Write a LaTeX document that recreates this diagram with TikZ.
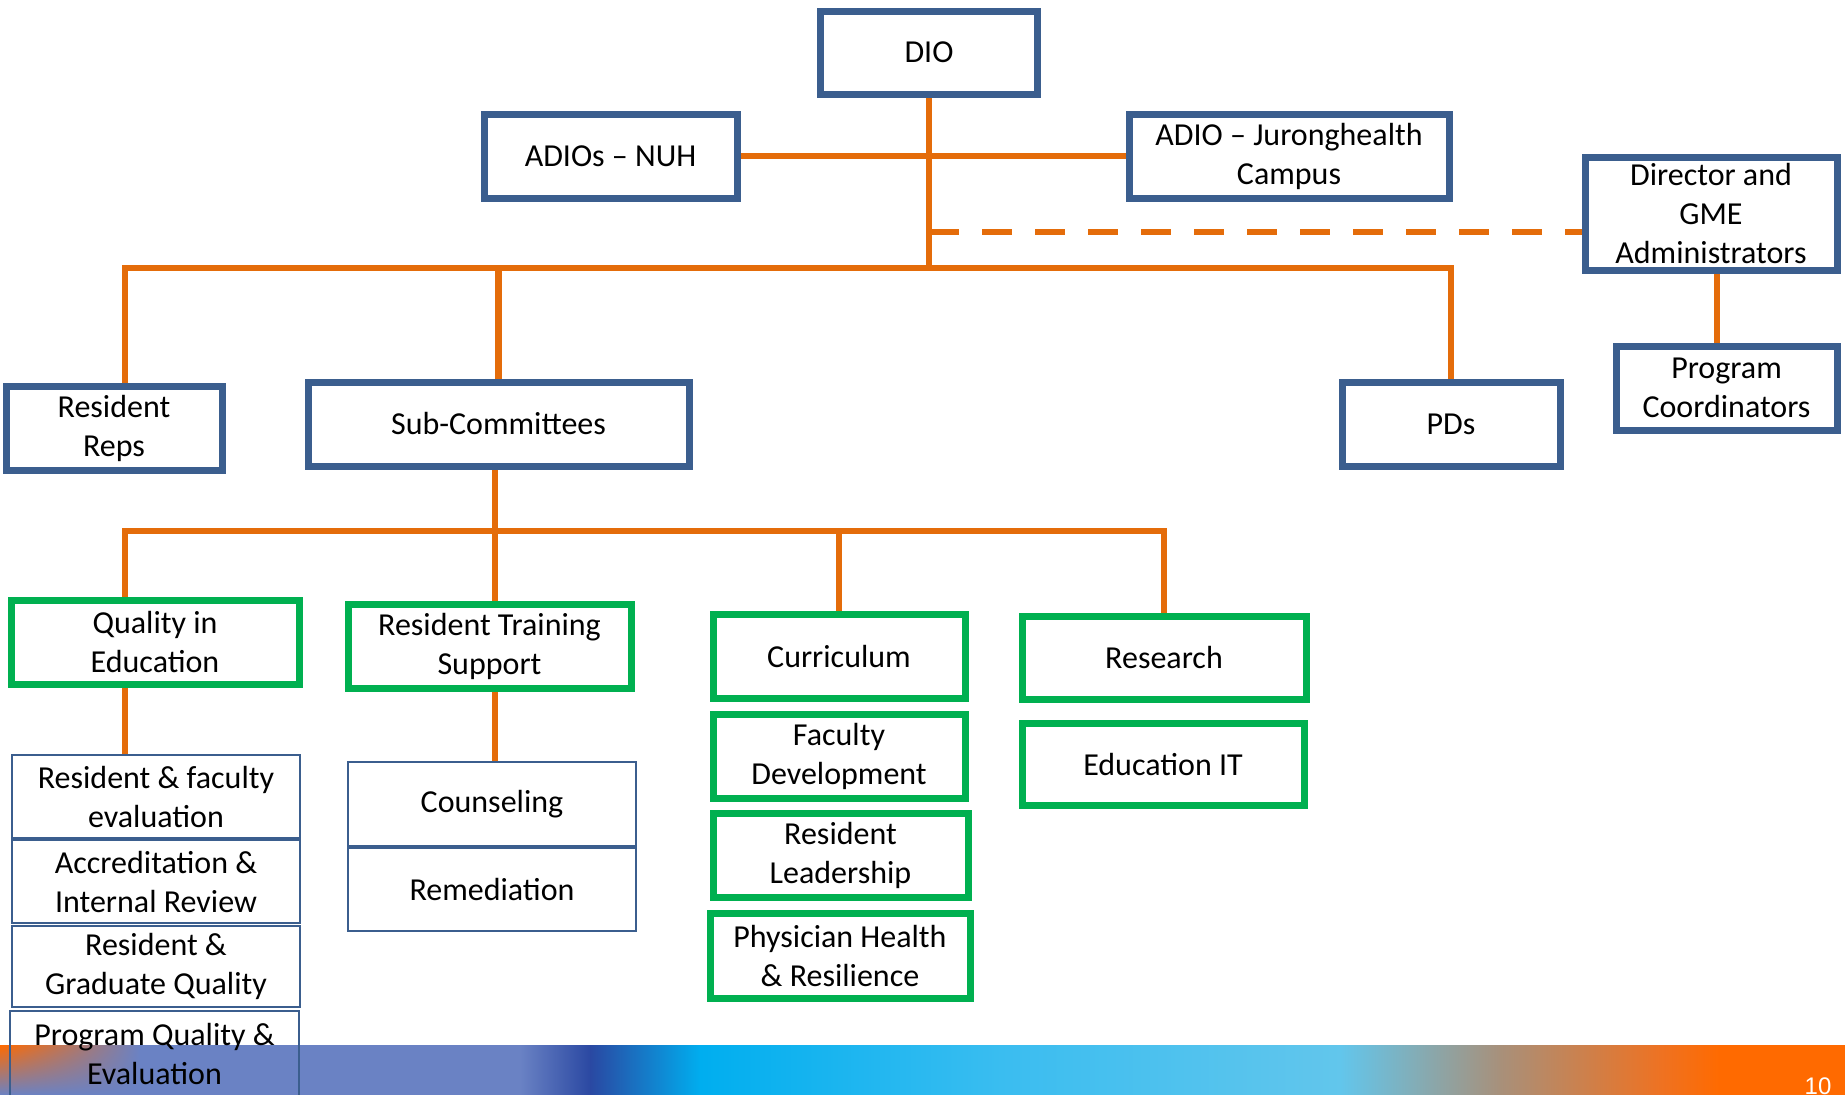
\documentclass[tikz,border=0pt]{standalone}
\usepackage{fontspec}
\setmainfont{Carlito}
\newfontfamily\numfont{Liberation Sans}
\usetikzlibrary{backgrounds, calc, shadings}
\definecolor{cblue}{HTML}{3B5E8E}
\definecolor{cgreen}{HTML}{00B050}
\definecolor{corange}{HTML}{E46C0A}
\definecolor{barorange}{HTML}{FF6A00}
\definecolor{barblue}{HTML}{6A82C4}
\definecolor{bardark}{HTML}{2A48A2}
\definecolor{barcyan}{HTML}{00AEEF}
\definecolor{barcyan2}{HTML}{3ABDF0}
\definecolor{barlight}{HTML}{62C6EC}
\definecolor{barbrown}{HTML}{A8907A}
\definecolor{barrust}{HTML}{EE7222}
\tikzset{
  box/.style={draw=#1, fill=white, line width=7pt, align=center, inner sep=0pt, font=\fontsize{32}{39}\selectfont},
  box/.default=cblue,
  thinbox/.style={box, line width=2pt},
  dims/.style 2 args={minimum width=#1pt, minimum height=#2pt},
  link/.style={draw=corange, line width=6.5pt},
}

\begin{document}
\begin{tikzpicture}[x=1pt, y=-1pt]
  \useasboundingbox (0,0) rectangle (1845,1095);
  % top level
  \node[box, dims={217}{83}] (dio) at (929,52.5) {DIO};
  \node[box, dims={253}{84}] (nuh) at (610.5,156) {ADIOs -- NUH};
  \node[box, dims={320}{84}] (jur) at (1289,156) {ADIO -- Juronghealth\\Campus};
  \node[box, dims={252}{113}] (gme) at (1711,213.5) {Director and\\GME\\Administrators};
  \node[box, dims={221}{84}] (coord) at (1726.5,388) {Program\\Coordinators};
  \node[box, dims={216}{84}] (reps) at (114,428) {Resident\\Reps};
  \node[box, dims={381}{84}] (subc) at (498.5,424) {Sub-Committees};
  \node[box, dims={218}{84}] (pds) at (1451,424) {PDs};
  % sub-committees
  \node[box=cgreen, dims={288}{84}] (qual) at (155,642) {Quality in\\Education};
  \node[box=cgreen, dims={283}{84}] (rts) at (489.5,646) {Resident Training\\Support};
  \node[box=cgreen, dims={252}{84}] (curr) at (839,656) {Curriculum};
  \node[box=cgreen, dims={252}{84}] (facdev) at (839,756) {Faculty\\Development};
  \node[box=cgreen, dims={255}{84}] (resl) at (840.5,855) {Resident\\Leadership};
  \node[box=cgreen, dims={260}{85}] (phys) at (840,955.5) {Physician Health\\\& Resilience};
  \node[box=cgreen, dims={284}{83}] (research) at (1164,657.5) {Research};
  \node[box=cgreen, dims={282}{82}] (eduit) at (1163,764) {Education IT};
  % working groups
  \node[thinbox, dims={288}{83}] (rfe) at (156,796.5) {Resident \& faculty\\evaluation};
  \node[thinbox, dims={288}{83}] (acc) at (156,881.5) {Accreditation \&\\Internal Review};
  \node[thinbox, dims={288}{81}] (rgq) at (156,966.5) {Resident \&\\Graduate Quality};
  \node[thinbox, fill=none, dims={289}{86}] (pqe) at (154.5,1054) {Program Quality \&\\Evaluation};
  \node[thinbox, dims={288}{84}] (couns) at (492,804) {Counseling};
  \node[thinbox, dims={288}{83}] (remed) at (492,889.5) {Remediation};
  \node[text=white, font=\numfont\fontsize{24}{28}\selectfont, anchor=base] (pgno) at (1818,1094) {10};

  \begin{scope}[on background layer]
    % footer band
    \foreach \xa/\xb/\ca/\cb in {0/520/barblue/barblue, 520/590/barblue/bardark, 590/700/bardark/barcyan,
        700/1000/barcyan/barcyan2, 1000/1340/barcyan2/barlight, 1340/1500/barlight/barbrown,
        1500/1660/barbrown/barrust, 1660/1720/barrust/barorange, 1720/1845/barorange/barorange}
      \shade[left color=\ca, right color=\cb] (\xa,1045) rectangle ({\xb+1},1095);
    \shade[upper left=barorange, upper right=barblue, lower left=barblue, lower right=barblue] (0,1045) rectangle (140,1095);
    % connectors
    \coordinate (busL) at (125,268);
    \coordinate (busR) at (1451,268);
    \coordinate (dash0) at (929,232);
    \coordinate (sbL) at (125,531);
    \coordinate (sbM) at (495,531);
    \coordinate (sbR) at (1164,531);
    \draw[link] (dio.south) -- (dio.south |- busL);
    \draw[link] (nuh.east) -- (jur.west);
    \draw[link, dash pattern=on 30pt off 23pt] (dash0) -- (dash0 -| gme.west);
    \draw[link] (busL |- reps.north) -- (busL) -- (busR) -- (pds.north);
    \draw[link] (subc.north) -- (subc.north |- busL);
    \draw[link] ([xshift=6pt]gme.south) -- ([xshift=6pt]gme.south |- coord.north);
    \draw[link] (sbM |- subc.south) -- (sbM |- rts.north);
    \draw[link] (sbL |- qual.north) -- (sbL) -- (sbR) -- (research.north);
    \draw[link] (curr.north) -- (curr.north |- sbL);
    \draw[link] (sbL |- qual.south) -- (sbL |- rfe.north);
    \draw[link] (sbM |- rts.south) -- (sbM |- couns.north);
  \end{scope}
\end{tikzpicture}
\end{document}
